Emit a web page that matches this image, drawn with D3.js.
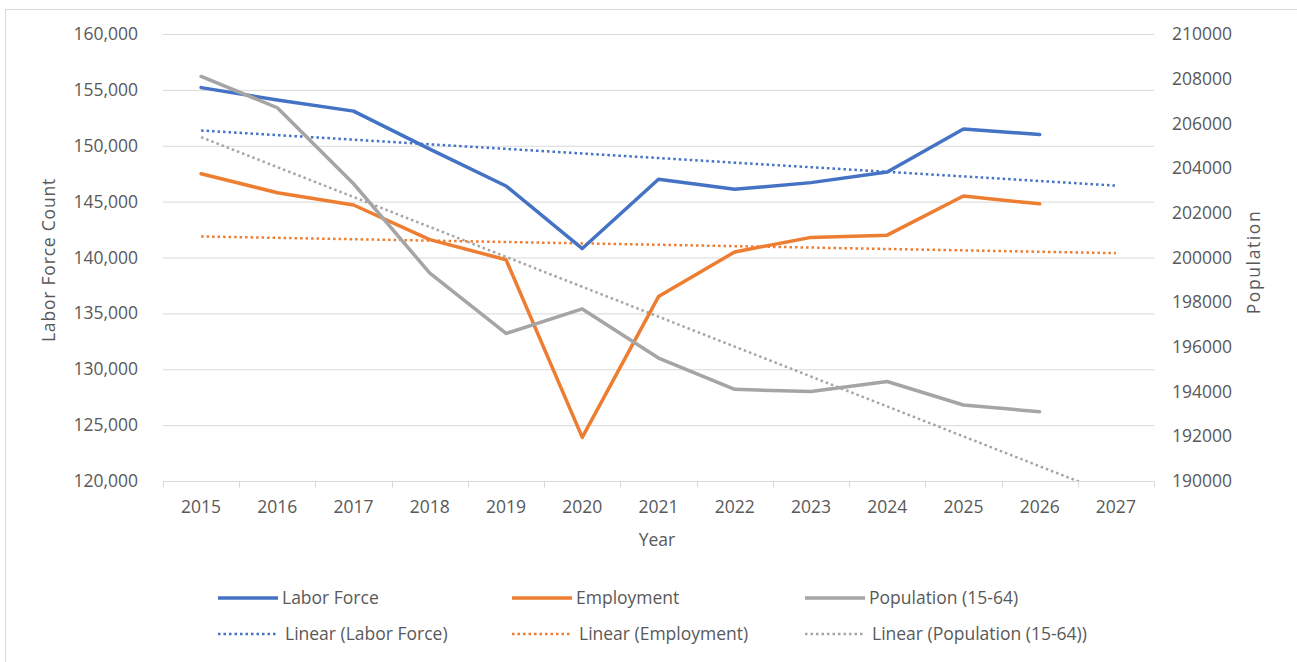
<!DOCTYPE html>
<html>
<head>
<meta charset="utf-8">
<script src="https://cdn.jsdelivr.net/npm/d3@7"></script>
<style>
  body { margin: 0; background: #fff; }
  svg text { font-family: "Open Sans", "Noto Sans", sans-serif; fill: #595959; }
</style>
</head>
<body>
<div id="chart"></div>
<script>
// categories (2027 is an empty slot, only the trendlines reach it)
var years = ["2015","2016","2017","2018","2019","2020","2021","2022","2023","2024","2025","2026","2027"];
var laborForce = [155200, 154100, 153100, 149700, 146400, 140800, 147000, 146100, 146700, 147650, 151500, 151000];
var employment = [147500, 145800, 144700, 141600, 139800, 123900, 136500, 140500, 141800, 142000, 145500, 144800];
var population = [208100, 206700, 203300, 199300, 196600, 197700, 195500, 194100, 194000, 194450, 193400, 193100];
var leftTicks = [120000, 125000, 130000, 135000, 140000, 145000, 150000, 155000, 160000];
var rightTicks = [190000, 192000, 194000, 196000, 198000, 200000, 202000, 204000, 206000, 208000, 210000];

var width = 1297, height = 662;
var margin = {top: 34, right: 143, bottom: 181, left: 163};
var fs = "17.5px";

var svg = d3.select("#chart").append("svg")
    .attr("width", width)
    .attr("height", height);

// outer frame
svg.append("rect")
    .attr("x", 5.5).attr("y", 9.5)
    .attr("width", 1300).attr("height", 700)
    .attr("fill", "none").attr("stroke", "#d9d9d9");

var xScale = d3.scaleBand()
    .domain(years)
    .range([margin.left, width - margin.right])
    .padding(0);

var yLeft = d3.scaleLinear()
    .domain([120000, 160000])
    .range([height - margin.bottom, margin.top]);

var yRight = d3.scaleLinear()
    .domain([190000, 210000])
    .range([height - margin.bottom, margin.top]);

var cx = function(i) { return xScale(years[i]) + xScale.bandwidth() / 2; };

// gridlines
svg.append("g")
    .selectAll("line")
    .data(leftTicks.slice(1))
    .enter()
    .append("line")
    .attr("x1", margin.left).attr("x2", width - margin.right)
    .attr("y1", function(d) { return yLeft(d) + 0.5; })
    .attr("y2", function(d) { return yLeft(d) + 0.5; })
    .attr("stroke", "#d9d9d9").attr("stroke-width", 1);

// left axis
var leftAxis = d3.axisLeft(yLeft)
    .tickValues(leftTicks)
    .tickSize(0)
    .tickPadding(25)
    .tickFormat(d3.format(","));
var gl = svg.append("g")
    .attr("transform", "translate(" + margin.left + ",0)")
    .call(leftAxis);
gl.select(".domain").remove();
gl.selectAll("text").style("font-size", fs);

// right axis
var rightAxis = d3.axisRight(yRight)
    .tickValues(rightTicks)
    .tickSize(0)
    .tickPadding(18)
    .tickFormat(d3.format("d"));
var gr = svg.append("g")
    .attr("transform", "translate(" + (width - margin.right) + ",0)")
    .call(rightAxis);
gr.select(".domain").remove();
gr.selectAll("text").style("font-size", fs);

// x axis: baseline + ticks at category boundaries
var gx = svg.append("g")
    .attr("transform", "translate(0," + (height - margin.bottom + 0.5) + ")");
gx.append("line")
    .attr("x1", margin.left).attr("x2", width - margin.right)
    .attr("stroke", "#d9d9d9");
gx.selectAll("line.tk")
    .data(years.concat(["end"]))
    .enter()
    .append("line")
    .attr("class", "tk")
    .attr("x1", function(d, i) { return Math.round(margin.left + i * xScale.bandwidth()) + 0.5; })
    .attr("x2", function(d, i) { return Math.round(margin.left + i * xScale.bandwidth()) + 0.5; })
    .attr("y1", 0).attr("y2", 6)
    .attr("stroke", "#d9d9d9");
gx.selectAll("text")
    .data(years)
    .enter()
    .append("text")
    .attr("x", function(d, i) { return cx(i); })
    .attr("y", 31)
    .attr("text-anchor", "middle")
    .style("font-size", fs)
    .text(function(d) { return d; });

// axis titles
svg.append("text")
    .attr("x", 657).attr("y", 546)
    .attr("text-anchor", "middle")
    .style("font-size", fs)
    .text("Year");

svg.append("text")
    .attr("transform", "translate(55,260) rotate(-90)")
    .attr("text-anchor", "middle")
    .style("font-size", fs)
    .style("letter-spacing", "0.8px")
    .text("Labor Force Count");

svg.append("text")
    .attr("transform", "translate(1260,262) rotate(-90)")
    .attr("text-anchor", "middle")
    .style("font-size", fs)
    .style("letter-spacing", "1.6px")
    .text("Population");

// clip for trendlines
svg.append("clipPath").attr("id", "plotclip")
    .append("rect")
    .attr("x", margin.left).attr("y", margin.top)
    .attr("width", width - margin.left - margin.right)
    .attr("height", height - margin.top - margin.bottom);

// least squares trend over x = 1..n, extended one period forward
function linearFit(values, nOut) {
    var xs = values.map(function(d, i) { return i + 1; });
    var mx = d3.mean(xs), my = d3.mean(values);
    var sxy = d3.sum(values, function(d, i) { return (xs[i] - mx) * (d - my); });
    var sxx = d3.sum(xs, function(x) { return (x - mx) * (x - mx); });
    var b = sxy / sxx, a = my - b * mx;
    return d3.range(nOut).map(function(i) { return a + b * (i + 1); });
}

var series = [
    {name: "Labor Force", values: laborForce, scale: yLeft, color: "#4472c4"},
    {name: "Employment", values: employment, scale: yLeft, color: "#ed7d31"},
    {name: "Population (15-64)", values: population, scale: yRight, color: "#a5a5a5"}
];

// trendlines
series.forEach(function(s) {
    var fit = linearFit(s.values, years.length);
    svg.append("path")
        .datum(fit)
        .attr("clip-path", "url(#plotclip)")
        .attr("fill", "none")
        .attr("stroke", s.color)
        .attr("stroke-width", 2.5)
        .attr("stroke-dasharray", "2.5,3")
        .attr("d", d3.line()
            .x(function(d, i) { return cx(i); })
            .y(function(d) { return s.scale(d); }));
});

// data lines
series.forEach(function(s) {
    svg.append("path")
        .datum(s.values)
        .attr("fill", "none")
        .attr("stroke", s.color)
        .attr("stroke-width", 3.5)
        .attr("stroke-linejoin", "round")
        .attr("stroke-linecap", "round")
        .attr("d", d3.line()
            .x(function(d, i) { return cx(i); })
            .y(function(d) { return s.scale(d); }));
});

// legend
var legendX = [218, 512, 805];
var legendRows = [598, 634];
series.forEach(function(s, i) {
    var g1 = svg.append("g").attr("transform", "translate(" + legendX[i] + "," + legendRows[0] + ")");
    g1.append("line").attr("x1", 0).attr("x2", 60)
        .attr("stroke", s.color).attr("stroke-width", 3.5);
    g1.append("text").attr("x", 64).attr("y", 6)
        .style("font-size", fs).text(s.name);

    var g2 = svg.append("g").attr("transform", "translate(" + legendX[i] + "," + legendRows[1] + ")");
    g2.append("line").attr("x1", 0).attr("x2", 60)
        .attr("stroke", s.color).attr("stroke-width", 2.5)
        .attr("stroke-dasharray", "2.5,3");
    g2.append("text").attr("x", 67).attr("y", 6)
        .style("font-size", fs).text("Linear (" + s.name + ")");
});
</script>
</body>
</html>
